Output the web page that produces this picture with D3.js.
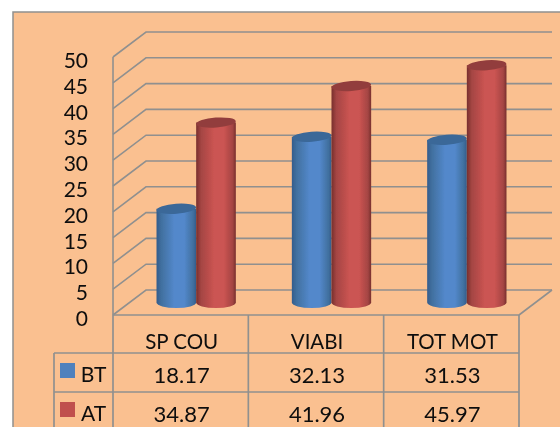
<!DOCTYPE html>
<html>
<head>
<meta charset="utf-8">
<script src="https://cdn.jsdelivr.net/npm/d3@7"></script>
<style>
  html, body { margin: 0; padding: 0; background: #fff; overflow: hidden; }
  text { font-family: Lato, "Open Sans", sans-serif; fill: #0c0c0c; }
</style>
</head>
<body>
<svg id="chart" width="560" height="427"></svg>
<script>
const categories = ["SP COU", "VIABI", "TOT MOT"];
const seriesNames = ["BT", "AT"];
const btValues = [18.17, 32.13, 31.53];
const atValues = [34.87, 41.96, 45.97];
const yTicks = [0, 5, 10, 15, 20, 25, 30, 35, 40, 45, 50];
// only the tails of two letters are left of the title above the crop
const titleTails = ["y", "y"];

const width = 560;
const height = 427;
const gridColor = "#90908f";
const bgColor = "#fac090";

// front plane of the 3d box and how far the back wall is pushed
const left = 113;
const right = 519;
const baseY = 315;
const topY = 57;
const depthX = 33;
const depthY = 25;

const x = d3.scaleBand().domain(categories).range([left, right]);
const y = d3.scaleLinear().domain([0, 50]).range([baseY, topY]);

const svg = d3.select("#chart");
const defs = svg.append("defs");

defs.append("filter").attr("id", "soft")
  .append("feGaussianBlur").attr("stdDeviation", 0.45);

function cylGradient(id, dark, mid, light) {
  const g = defs.append("linearGradient").attr("id", id);
  [[0, dark], [0.12, mid], [0.45, light], [0.7, light], [0.92, mid], [1, dark]].forEach((s) => {
    g.append("stop").attr("offset", s[0]).attr("stop-color", s[1]);
  });
}
cylGradient("bluecyl", "#335c8c", "#41709f", "#5388cb");
cylGradient("redcyl", "#772f2d", "#a44543", "#cb5452");

svg.append("rect")
  .attr("x", 13).attr("y", 12)
  .attr("width", width).attr("height", height)
  .attr("fill", bgColor)
  .attr("stroke", gridColor).attr("stroke-width", 1.5);

svg.selectAll("text.tail")
  .data(titleTails)
  .join("text")
  .attr("class", "tail")
  .attr("x", (d, i) => (i === 0 ? 66 : 183))
  .attr("y", -3)
  .style("font-size", "20px")
  .text((d) => d);

const plot = svg.append("g").attr("filter", "url(#soft)");

// walls: gridlines going back and then across
const grid = plot.append("g")
  .attr("fill", "none")
  .attr("stroke", gridColor)
  .attr("stroke-width", 1.6);

grid.selectAll("path")
  .data(yTicks)
  .join("path")
  .attr("d", (d) => `M${left},${y(d)}L${left + depthX},${y(d) - depthY}L${right + depthX},${y(d) - depthY}`);

grid.append("path").attr("d", `M${left},${baseY}V${topY}`);
grid.append("path").attr("d", `M${right},${baseY}L${right + depthX},${baseY - depthY}`);
grid.append("path").attr("d", `M${left},${baseY}H${right}`);

// cylinders
const barW = x.bandwidth() * 0.293;
const barRy = 5.5;
const centerShift = depthX / 2 - 1;
const floorShift = depthY / 2;

function drawCylinder(g, cx, val, fillId, topColor) {
  const bottom = y(0) - floorShift;
  const top = y(val) - floorShift;
  const rx = barW / 2;
  g.append("path")
    .attr("d", `M${cx - rx},${top}V${bottom}A${rx},${barRy} 0 0 0 ${cx + rx},${bottom}V${top}Z`)
    .attr("fill", `url(#${fillId})`);
  g.append("ellipse")
    .attr("cx", cx).attr("cy", top)
    .attr("rx", rx).attr("ry", barRy - 0.5)
    .attr("transform", `rotate(-4 ${cx} ${top})`)
    .attr("fill", topColor);
}

const bars = plot.append("g");
categories.forEach((c, i) => {
  const mid = x(c) + x.bandwidth() / 2 + centerShift;
  drawCylinder(bars, mid - barW / 2, btValues[i], "bluecyl", "#3a6798");
  drawCylinder(bars, mid + barW / 2, atValues[i], "redcyl", "#923e3c");
});

// y labels
const yLabels = svg.append("g").attr("filter", "url(#soft)");
yLabels.selectAll("text")
  .data(yTicks)
  .join("text")
  .attr("x", 88)
  .attr("y", (d) => y(d) + 11)
  .attr("text-anchor", "end")
  .style("font-size", "21px")
  .text((d) => d);

// data table under the axis
const rowY = [baseY, 353, 392, 431];
const tableLeft = 54;
const table = svg.append("g").attr("filter", "url(#soft)");
const lines = table.append("g").attr("stroke", gridColor).attr("stroke-width", 1.7).attr("fill", "none");

lines.selectAll("path.row")
  .data(rowY.slice(1))
  .join("path")
  .attr("class", "row")
  .attr("d", (d) => `M${tableLeft},${d}H${right}`);

const vEdges = [left].concat(categories.map((c) => x(c) + x.bandwidth()));
lines.selectAll("path.col")
  .data(vEdges)
  .join("path")
  .attr("class", "col")
  .attr("d", (d) => `M${d},${baseY}V${height}`);
lines.append("path").attr("d", `M${tableLeft},${rowY[1]}V${height}`);

table.selectAll("text.cat")
  .data(categories)
  .join("text")
  .attr("class", "cat")
  .attr("x", (d) => x(d) + x.bandwidth() / 2 + 1)
  .attr("y", 349)
  .attr("text-anchor", "middle")
  .style("font-size", "20.5px")
  .text((d) => d);

[btValues, atValues].forEach((vals, r) => {
  table.selectAll(`text.val${r}`)
    .data(vals)
    .join("text")
    .attr("class", `val${r}`)
    .attr("x", (d, i) => x(categories[i]) + x.bandwidth() / 2 + 1)
    .attr("y", rowY[r + 1] + 30)
    .attr("text-anchor", "middle")
    .style("font-size", "22px")
    .text((d) => d3.format(".2f")(d));
});

const legendColors = ["#4f81bd", "#c0504d"];
table.selectAll("rect.key")
  .data(seriesNames)
  .join("rect")
  .attr("class", "key")
  .attr("x", 60)
  .attr("y", (d, i) => rowY[i + 1] + 10)
  .attr("width", 15).attr("height", 15)
  .attr("fill", (d, i) => legendColors[i]);

table.selectAll("text.key")
  .data(seriesNames)
  .join("text")
  .attr("class", "key")
  .attr("x", 93.5)
  .attr("y", (d, i) => rowY[i + 1] + 29)
  .attr("text-anchor", "middle")
  .style("font-size", "21px")
  .text((d) => d);
</script>
</body>
</html>
